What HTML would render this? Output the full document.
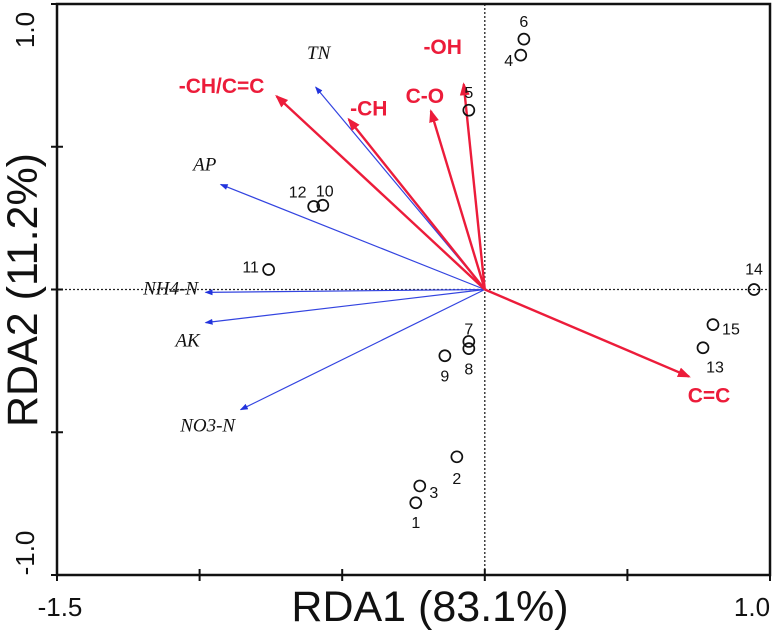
<!DOCTYPE html>
<html><head><meta charset="utf-8"><style>
body{margin:0;background:#fff}
svg{display:block;font-family:"Liberation Sans",Arial,sans-serif}
</style></head><body>
<svg id="chart" width="774" height="635" viewBox="0 0 774 635" xmlns="http://www.w3.org/2000/svg">
<defs>
<marker id="ahR" markerWidth="14" markerHeight="12" refX="11" refY="6" orient="auto" markerUnits="userSpaceOnUse"><path d="M0,1 L13,6 L0,11 Z" fill="#ec1c3a"/></marker>
<marker id="ahB" markerWidth="8" markerHeight="7" refX="7" refY="3.5" orient="auto" markerUnits="userSpaceOnUse"><path d="M0,0.5 L8,3.5 L0,6.5 Z" fill="#2233dd"/></marker>
</defs>
<g id="plot"></g>
</svg>
<script>
const sampleIds=["1","2","3","4","5","6","7","8","9","10","11","12","13","14","15"];
const sampleX=[-0.242,-0.098,-0.228,0.126,-0.056,0.137,-0.056,-0.056,-0.140,-0.568,-0.758,-0.600,0.765,0.944,0.800];
const sampleY=[-0.747,-0.586,-0.688,0.821,0.628,0.877,-0.182,-0.207,-0.232,0.295,0.070,0.291,-0.204,0.000,-0.123];
const envNames=["TN","AP","NH4-N","AK","NO3-N"];
const envX=[-0.593,-0.926,-0.979,-0.979,-0.856];
const envY=[0.709,0.368,-0.010,-0.116,-0.421];
const fgNames=["-CH/C=C","-CH","C-O","-OH","C=C"];
const fgX=[-0.730,-0.477,-0.189,-0.074,0.716];
const fgY=[0.677,0.596,0.625,0.719,-0.305];
const xTicks=[-1.5,-1.0,-0.5,0,0.5,1.0];
const yTicks=[-1.0,-0.5,0,0.5,1.0];

const L=57,R=770,T=4,B=575;
const sx=v=>L+(v+1.5)/2.5*(R-L);
const sy=v=>B-(v+1)/2*(B-T);
const NS="http://www.w3.org/2000/svg";
const g=document.getElementById('plot');
function mk(tag,attrs,txt){const e=document.createElementNS(NS,tag);for(const k in attrs)e.setAttribute(k,attrs[k]);if(txt!==undefined)e.textContent=txt;g.appendChild(e);return e;}

let e=mk('line',{x1:L,x2:R,y1:sy(0),y2:sy(0),stroke:'#222','stroke-width':1.3,'stroke-dasharray':'2,2'});


e=mk('line',{x1:sx(0),x2:sx(0),y1:T,y2:B,stroke:'#222','stroke-width':1.3,'stroke-dasharray':'2,2'});



e=mk('rect',{x:L,y:T,width:R-L,height:B-T,fill:'none',stroke:'#111','stroke-width':2.5});



xTicks.forEach(v=>{const t=mk('line',{x1:sx(v),x2:sx(v),y1:B-6,y2:B+6,stroke:'#111','stroke-width':2});

});
yTicks.forEach(v=>{const t=mk('line',{x1:L-6,x2:L+6,y1:sy(v),y2:sy(v),stroke:'#111','stroke-width':2});

});

e=mk('text',{x:sx(-1.5)+3,y:616,'font-size':26,'text-anchor':'middle',fill:'#111'},'-1.5');


e=mk('text',{x:sx(1.0)-18,y:616,'font-size':26,'text-anchor':'middle',fill:'#111'},'1.0');


e=mk('text',{x:0,y:0,'font-size':26,'text-anchor':'middle',fill:'#111',transform:`translate(34,${sy(1)+26}) rotate(-90)`},'1.0');


e=mk('text',{x:0,y:0,'font-size':26,'text-anchor':'middle',fill:'#111',transform:`translate(34,${sy(-1)-22}) rotate(-90)`},'-1.0');



e=mk('text',{x:430,y:621,'font-size':43,'text-anchor':'middle',fill:'#111'},'RDA1 (83.1%)');


e=mk('text',{x:0,y:0,'font-size':43,'text-anchor':'middle',fill:'#111',transform:'translate(37,290) rotate(-90)'},'RDA2 (11.2%)');



const envLab=[[3,-28],[-16,-14],[-35,2],[-18,24],[-33,22]];
envNames.forEach((n,i)=>{
 const a=mk('line',{x1:sx(0),y1:sy(0),x2:sx(envX[i]),y2:sy(envY[i]),stroke:'#3344e0','stroke-width':1.2,'marker-end':'url(#ahB)'});
 
 
 const t=mk('text',{x:sx(envX[i])+envLab[i][0],y:sy(envY[i])+envLab[i][1],'font-size':19,'font-style':'italic','font-family':'"Liberation Serif",serif','text-anchor':'middle',fill:'#111'},n);
 
 
});
const fgLab=[[-55,-3],[20,-4],[-6,-8],[-21,-30],[20,26]];
fgNames.forEach((n,i)=>{
 const a=mk('line',{x1:sx(0),y1:sy(0),x2:sx(fgX[i]),y2:sy(fgY[i]),stroke:'#ec1c3a','stroke-width':2.4,'marker-end':'url(#ahR)'});
 
 
 const t=mk('text',{x:sx(fgX[i])+fgLab[i][0],y:sy(fgY[i])+fgLab[i][1],'font-size':21,'font-weight':'bold','text-anchor':'middle',fill:'#ec1c3a'},n);
 
 
});

const sLab=[[0,20],[0,22],[14,7],[-12,6],[0,-17],[0,-17],[0,-12],[0,21],[0,21],[2,-14],[-18,-2],[-16,-14],[12,20],[0,-20],[18,5]];
sampleIds.forEach((id,i)=>{
 const c=mk('circle',{cx:sx(sampleX[i]),cy:sy(sampleY[i]),r:5.5,fill:'none',stroke:'#111','stroke-width':1.7});
 
 
 const t=mk('text',{x:sx(sampleX[i])+sLab[i][0],y:sy(sampleY[i])+sLab[i][1]+5,'font-size':16,'text-anchor':'middle',fill:'#111'},id);
 
 
});
</script>
</body></html>
